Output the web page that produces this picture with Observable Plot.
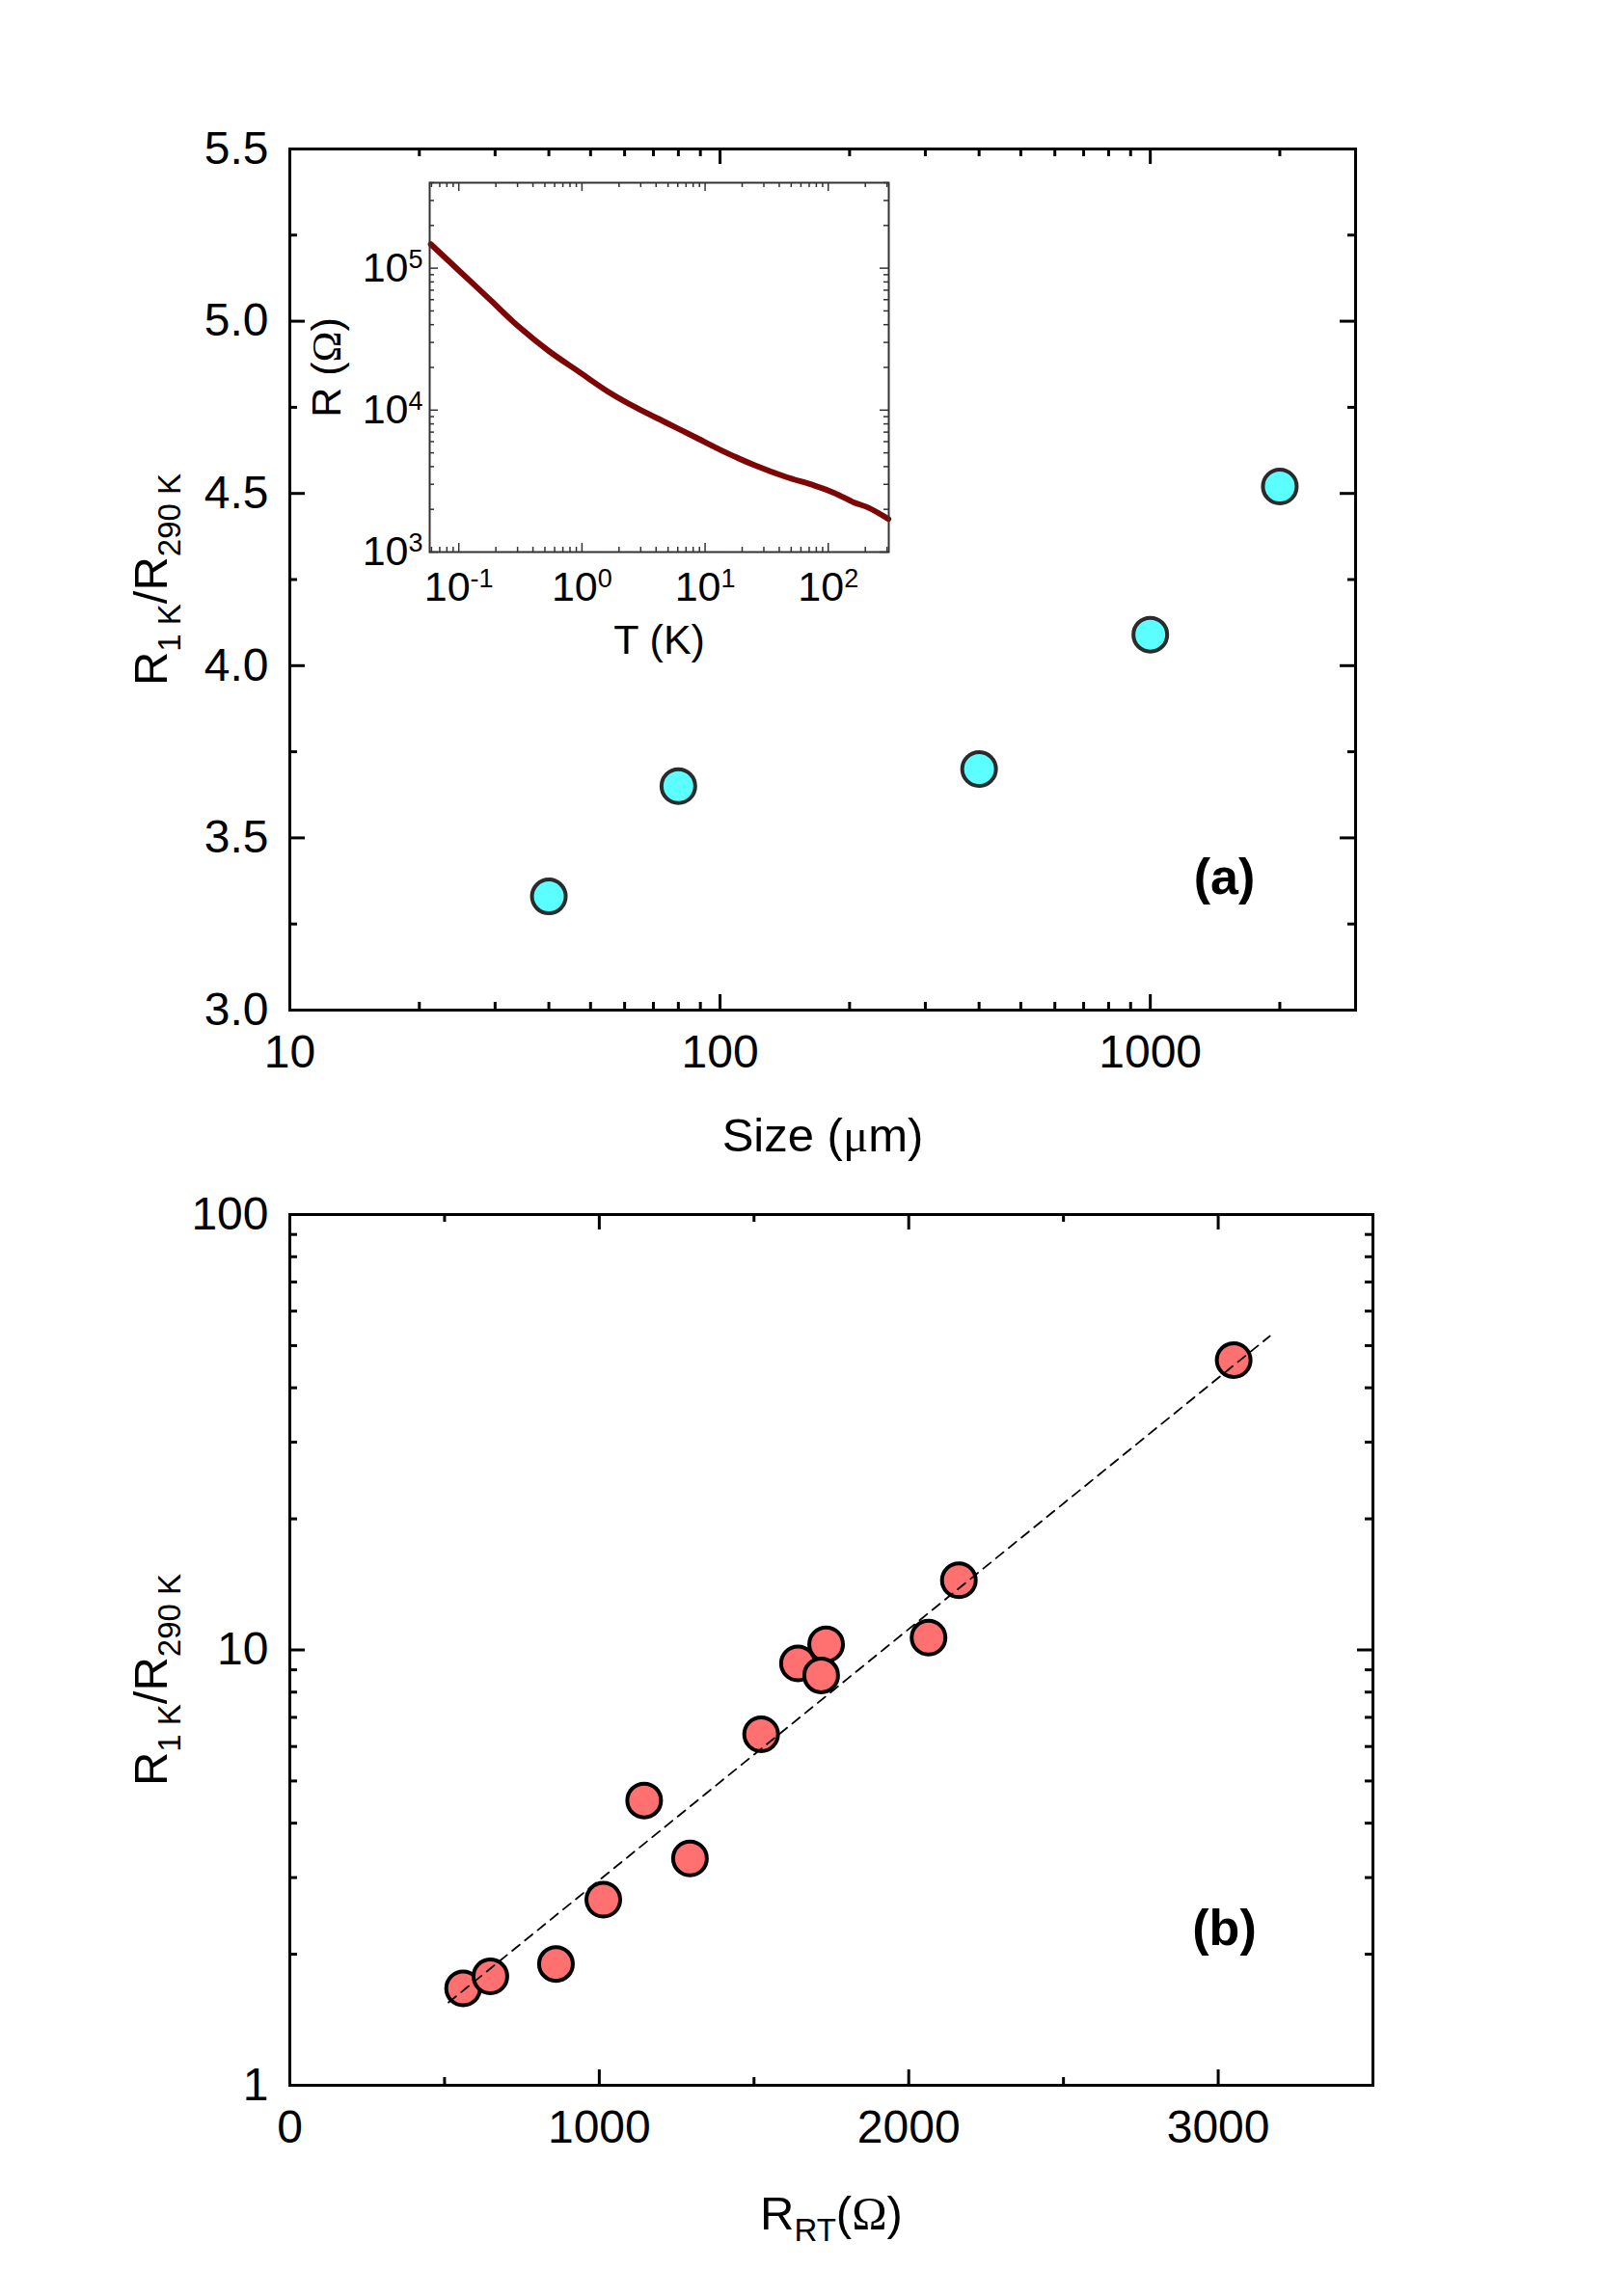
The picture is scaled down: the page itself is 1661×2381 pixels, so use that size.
<!DOCTYPE html>
<html><head><meta charset="utf-8">
<script src="https://cdn.jsdelivr.net/npm/d3@7"></script>
<script src="https://cdn.jsdelivr.net/npm/@observablehq/plot@0.6"></script>
<style>
html,body{margin:0;padding:0;background:#fff;overflow:hidden;}
#wrap{position:relative;width:1661px;height:2381px;font-family:"Liberation Sans",Arial,Helvetica,sans-serif;}
#wrap svg{position:absolute;left:0;}
</style></head><body><div id="wrap"></div>
<script>
// ---------- Panel (a) data ----------
const sizes = [40, 80, 400, 1000, 2000];
const ratioA = [3.33, 3.65, 3.70, 4.09, 4.52];
const aXMajor = [10, 100, 1000];
const aXMinor = [20, 30, 40, 50, 60, 70, 80, 90, 200, 300, 400, 500, 600, 700, 800, 900, 2000, 3000];
const aYMajor = [3.0, 3.5, 4.0, 4.5, 5.0, 5.5];
const aYMinor = [3.25, 3.75, 4.25, 4.75, 5.25];

// ---------- Inset data ----------
const insetT = [0.0592, 0.103, 0.179, 0.310, 0.538, 0.935, 1.63, 2.82, 4.90, 8.51, 14.8, 25.6, 44.6, 77.4, 112, 161, 213, 308];
const insetR = [147600, 94200, 60100, 38400, 26100, 18750, 13490, 10300, 8110, 6380, 5020, 4070, 3400, 2940, 2610, 2240, 2050, 1710];
const inXMajor = [0.1, 1, 10, 100];
const inXMinor = [0.06, 0.07, 0.08, 0.09, 0.2, 0.3, 0.4, 0.5, 0.6, 0.7, 0.8, 0.9, 2, 3, 4, 5, 6, 7, 8, 9, 20, 30, 40, 50, 60, 70, 80, 90, 200, 300];
const inYMajor = [1e3, 1e4, 1e5];
const inYMinor = [2e3, 3e3, 4e3, 5e3, 6e3, 7e3, 8e3, 9e3, 2e4, 3e4, 4e4, 5e4, 6e4, 7e4, 8e4, 9e4, 2e5, 3e5, 4e5];

// ---------- Panel (b) data ----------
const rRT = [560, 648, 860, 1013, 1145, 1293, 1523, 1642, 1733, 1717, 2064, 2162, 3050];
const ratioB = [1.67, 1.78, 1.90, 2.67, 4.51, 3.32, 6.40, 9.31, 10.3, 8.74, 10.67, 14.46, 46.3];
const fitX = [513, 3167];
const fitY = [1.55, 52.6];
const bXMajor = [0, 1000, 2000, 3000];
const bXMinor = [500, 1500, 2500];
const bYMajor = [1, 10, 100];
const bYMinor = [2, 3, 4, 5, 6, 7, 8, 9, 20, 30, 40, 50, 60, 70, 80, 90];

const FONT = '"Liberation Sans", Arial, Helvetica, sans-serif';
const SERIF = '"Liberation Serif", "DejaVu Serif", serif';
const wrap = document.getElementById("wrap");

function frameTicks(o) {
  const {xMaj, xMin, yMaj, yMin, W, H, maj, min, stroke, sw} = o;
  const st = {stroke, strokeWidth: sw};
  return [
    Plot.tickX(xMaj, {x: d => d, insetTop: H - maj, ...st}),
    Plot.tickX(xMaj, {x: d => d, insetBottom: H - maj, ...st}),
    Plot.tickX(xMin, {x: d => d, insetTop: H - min, ...st}),
    Plot.tickX(xMin, {x: d => d, insetBottom: H - min, ...st}),
    Plot.tickY(yMaj, {y: d => d, insetRight: W - maj, ...st}),
    Plot.tickY(yMaj, {y: d => d, insetLeft: W - maj, ...st}),
    Plot.tickY(yMin, {y: d => d, insetRight: W - min, ...st}),
    Plot.tickY(yMin, {y: d => d, insetLeft: W - min, ...st})
  ];
}

function byText(svg, str) {
  return d3.select(svg).selectAll("text").filter(function() { return this.textContent === str; });
}

function rich(svg, str, segs) {
  byText(svg, str).each(function() {
    const el = d3.select(this);
    el.text(null);
    segs.forEach(s => {
      const ts = el.append("tspan").text(s.t);
      if (s.dy) ts.attr("dy", s.dy);
      if (s.fs) ts.attr("font-size", s.fs);
      if (s.ff) ts.attr("font-family", s.ff);
    });
  });
}

function supify(svg, label, fs, dy) {
  d3.select(svg).selectAll(`g[aria-label="${label}"] text`).each(function() {
    const txt = this.textContent;
    const [base, exp] = txt.split("^");
    const el = d3.select(this);
    el.text(null);
    el.append("tspan").text(base);
    el.append("tspan").attr("font-size", fs).attr("dy", dy).text(exp);
  });
}

// ---------- Panel (a) ----------
const aW = 1105, aH = 893;
const plotA = Plot.plot({
  width: 1661, height: 1230,
  marginLeft: 300, marginRight: 256, marginTop: 154, marginBottom: 183,
  style: {fontFamily: FONT, background: "transparent", color: "black", overflow: "visible"},
  x: {type: "log", domain: [10, 3000]},
  y: {domain: [3, 5.5]},
  marks: [
    ...frameTicks({xMaj: aXMajor, xMin: aXMinor, yMaj: aYMajor, yMin: aYMinor, W: aW, H: aH, maj: 16, min: 8, stroke: "black", sw: 3}),
    Plot.frame({stroke: "black", strokeWidth: 3}),
    Plot.axisX(aXMajor, {anchor: "bottom", tickSize: 0, tickPadding: 25, tickFormat: d => String(d), fontSize: 48, label: null}),
    Plot.axisY(aYMajor, {anchor: "left", tickSize: 0, tickPadding: 22, tickFormat: d3.format(".1f"), fontSize: 48, label: null}),
    Plot.dot(sizes.map((s, i) => ({s, v: ratioA[i]})), {x: "s", y: "v", r: 17.5, fill: "#5cffff", stroke: "#2b2b2b", strokeWidth: 4}),
    Plot.text(["Size (μm)"], {text: d => d, frameAnchor: "bottom", textAnchor: "middle", lineAnchor: "bottom", dy: 146, fontSize: 49}),
    Plot.text(["R1 K/R290 K"], {text: d => d, frameAnchor: "left", textAnchor: "middle", rotate: -90, dx: -143, fontSize: 49}),
    Plot.text(["(a)"], {text: d => d, frameAnchor: "bottom-right", textAnchor: "middle", lineAnchor: "bottom", dx: -136, dy: -121, fontSize: 52, fontWeight: "bold"})
  ]
});
plotA.style.top = "0px";
wrap.appendChild(plotA);
rich(plotA, "Size (μm)", [{t: "Size ("}, {t: "μ", ff: SERIF}, {t: "m)"}]);
rich(plotA, "R1 K/R290 K", [{t: "R"}, {t: "1 K", fs: 33, dy: 14}, {t: "/R", dy: -14}, {t: "290 K", fs: 33, dy: 14}]);

// ---------- Inset ----------
const iW = 476, iH = 383;
const plotI = Plot.plot({
  width: 1661, height: 1230,
  marginLeft: 445, marginRight: 740, marginTop: 189, marginBottom: 658,
  style: {fontFamily: FONT, background: "transparent", color: "black", overflow: "visible"},
  x: {type: "log", domain: [0.058, 310]},
  y: {type: "log", domain: [1000, 4e5]},
  marks: [
    ...frameTicks({xMaj: inXMajor, xMin: inXMinor, yMaj: inYMajor, yMin: inYMinor, W: iW, H: iH, maj: 9, min: 5, stroke: "#333", sw: 1.5}),
    Plot.line(insetT.map((t, i) => ({t, r: insetR[i]})), {x: "t", y: "r", curve: "catmull-rom", stroke: "#7d0505", strokeWidth: 6, strokeLinecap: "round", strokeLinejoin: "round"}),
    Plot.frame({stroke: "#333", strokeWidth: 2}),
    Plot.axisX(inXMajor, {anchor: "bottom", tickSize: 0, tickPadding: 20, tickFormat: d => "10^" + Math.round(Math.log10(d)), fontSize: 43, label: null}),
    Plot.axisY(inYMajor, {anchor: "left", tickSize: 0, tickPadding: 7, tickFormat: d => "10^" + Math.round(Math.log10(d)), fontSize: 43, label: null}),
    Plot.text(["T (K)"], {text: d => d, frameAnchor: "bottom", textAnchor: "middle", lineAnchor: "bottom", dy: 105, fontSize: 43}),
    Plot.text(["R (Ω)"], {text: d => d, frameAnchor: "left", textAnchor: "middle", rotate: -90, dx: -106, fontSize: 43})
  ]
});
plotI.style.top = "0px";
wrap.appendChild(plotI);
supify(plotI, "x-axis tick label", 27, -14);
supify(plotI, "y-axis tick label", 27, -14);
rich(plotI, "R (Ω)", [{t: "R ("}, {t: "Ω", ff: SERIF}, {t: ")"}]);

// ---------- Panel (b) ----------
const bW = 1123, bH = 903;
const plotB = Plot.plot({
  width: 1661, height: 1151,
  marginLeft: 300, marginRight: 238, marginTop: 29, marginBottom: 219,
  style: {fontFamily: FONT, background: "transparent", color: "black", overflow: "visible"},
  x: {domain: [0, 3500]},
  y: {type: "log", domain: [1, 100]},
  marks: [
    ...frameTicks({xMaj: bXMajor, xMin: bXMinor, yMaj: bYMajor, yMin: bYMinor, W: bW, H: bH, maj: 16, min: 8, stroke: "black", sw: 3}),
    Plot.frame({stroke: "black", strokeWidth: 3}),
    Plot.axisX(bXMajor, {anchor: "bottom", tickSize: 0, tickPadding: 25, tickFormat: d => String(d), fontSize: 48, label: null}),
    Plot.axisY(bYMajor, {anchor: "left", tickSize: 0, tickPadding: 22, tickFormat: d => String(d), fontSize: 48, label: null}),
    Plot.dot(rRT.map((x, i) => ({x, v: ratioB[i]})), {x: "x", y: "v", r: 17.5, fill: "#ff7070", stroke: "black", strokeWidth: 4}),
    Plot.line(fitX.map((x, i) => ({x, y: fitY[i]})), {x: "x", y: "y", stroke: "black", strokeWidth: 1.8, strokeDasharray: "10,7"}),
    Plot.text(["RRT(Ω)"], {text: d => d, frameAnchor: "bottom", textAnchor: "middle", lineAnchor: "bottom", dy: 149, fontSize: 49}),
    Plot.text(["R1 K/R290 K"], {text: d => d, frameAnchor: "left", textAnchor: "middle", rotate: -90, dx: -143, dy: 31, fontSize: 49}),
    Plot.text(["(b)"], {text: d => d, frameAnchor: "bottom-right", textAnchor: "middle", lineAnchor: "bottom", dx: -154, dy: -146, fontSize: 52, fontWeight: "bold"})
  ]
});
plotB.style.top = "1230px";
wrap.appendChild(plotB);
rich(plotB, "RRT(Ω)", [{t: "R"}, {t: "RT", fs: 33, dy: 12}, {t: "(", dy: -12}, {t: "Ω", ff: SERIF}, {t: ")"}]);
rich(plotB, "R1 K/R290 K", [{t: "R"}, {t: "1 K", fs: 33, dy: 14}, {t: "/R", dy: -14}, {t: "290 K", fs: 33, dy: 14}]);
</script>
</body></html>
